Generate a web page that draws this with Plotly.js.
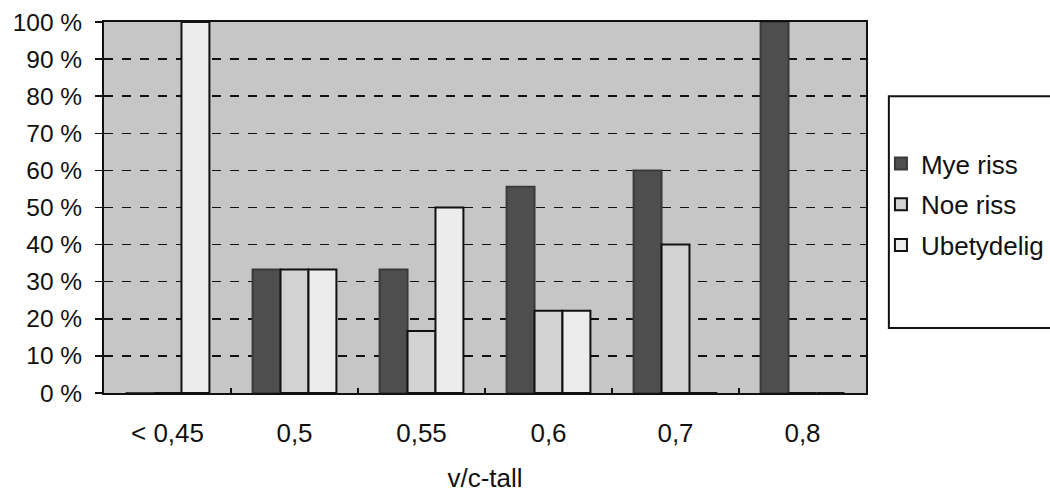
<!DOCTYPE html>
<html>
<head>
<meta charset="utf-8">
<script src="https://cdn.plot.ly/plotly-3.0.1.min.js"></script>
<style>html,body{margin:0;padding:0;background:#fff;}#chart{width:1050px;height:493px;}</style>
</head>
<body>
<div id="chart"></div>
<script>
const categories = ["< 0,45", "0,5", "0,55", "0,6", "0,7", "0,8"];
const seriesNames = ["Mye riss", "Noe riss", "Ubetydelig"];
const myeRiss = [0, 33.3, 33.3, 55.6, 60, 100];
const noeRiss = [0, 33.3, 16.7, 22.2, 40, 0];
const ubetydelig = [100, 33.3, 50, 22.2, 0, 0];
const yTicks = [0, 10, 20, 30, 40, 50, 60, 70, 80, 90, 100];

const FONT = "Liberation Sans, Arial, sans-serif";
const fills = ["#4e4e4e", "#d2d2d2", "#ececec"];
const lines = ["#3a3a3a", "#111111", "#111111"];
const values = [myeRiss, noeRiss, ubetydelig];

const traces = values.map((v, i) => ({
  type: "bar",
  name: seriesNames[i],
  x: categories,
  y: v,
  legendgroup: "g" + i,
  marker: { color: fills[i], line: { color: lines[i], width: 2 } },
  hoverinfo: "skip"
}));

const layout = {
  width: 1050,
  height: 493,
  margin: { l: 104, r: 184, t: 22, b: 100 },
  paper_bgcolor: "#ffffff",
  plot_bgcolor: "#c6c6c6",
  font: { family: FONT, size: 25, color: "#111" },
  barmode: "group",
  bargap: 0.34,
  bargroupgap: 0,
  showlegend: true,
  legend: {
    xref: "container", yref: "container",
    x: 0.839, xanchor: "left",
    y: 0.716, yanchor: "top",
    bgcolor: "rgba(0,0,0,0)",
    borderwidth: 0,
    tracegroupgap: 4,
    font: { family: FONT, size: 26, color: "#111" },
    itemwidth: 30
  },
  xaxis: {
    type: "category",
    showline: true, linecolor: "#111", linewidth: 2, mirror: true,
    ticks: "inside", ticklen: 5, tickwidth: 1.5, tickcolor: "#111",
    tickson: "boundaries",
    showgrid: false,
    ticklabelstandoff: 16,
    tickfont: { family: FONT, size: 26, color: "#111" },
    title: { text: "v/c-tall", font: { family: FONT, size: 26, color: "#111" }, standoff: 24 },
    automargin: false
  },
  yaxis: {
    range: [0, 100],
    tickvals: yTicks,
    ticktext: yTicks.map(t => t + " %"),
    showline: true, linecolor: "#111", linewidth: 2, mirror: true,
    ticks: "outside", ticklen: 7, tickwidth: 1.5, tickcolor: "#111",
    showgrid: true, gridcolor: "#111", gridwidth: 1.5, griddash: "dash",
    zeroline: false,
    ticklabelstandoff: 8,
    tickfont: { family: FONT, size: 24.5, color: "#111" },
    automargin: false
  },
  shapes: [{
    type: "rect", xref: "paper", yref: "paper",
    x0: 1.03, x1: 1.26, y0: 0.175, y1: 0.80,
    line: { color: "#111", width: 2 }, fillcolor: "rgba(0,0,0,0)", layer: "below"
  }]
};

Plotly.newPlot("chart", traces, layout, { displayModeBar: false, staticPlot: true });
</script>
</body>
</html>
